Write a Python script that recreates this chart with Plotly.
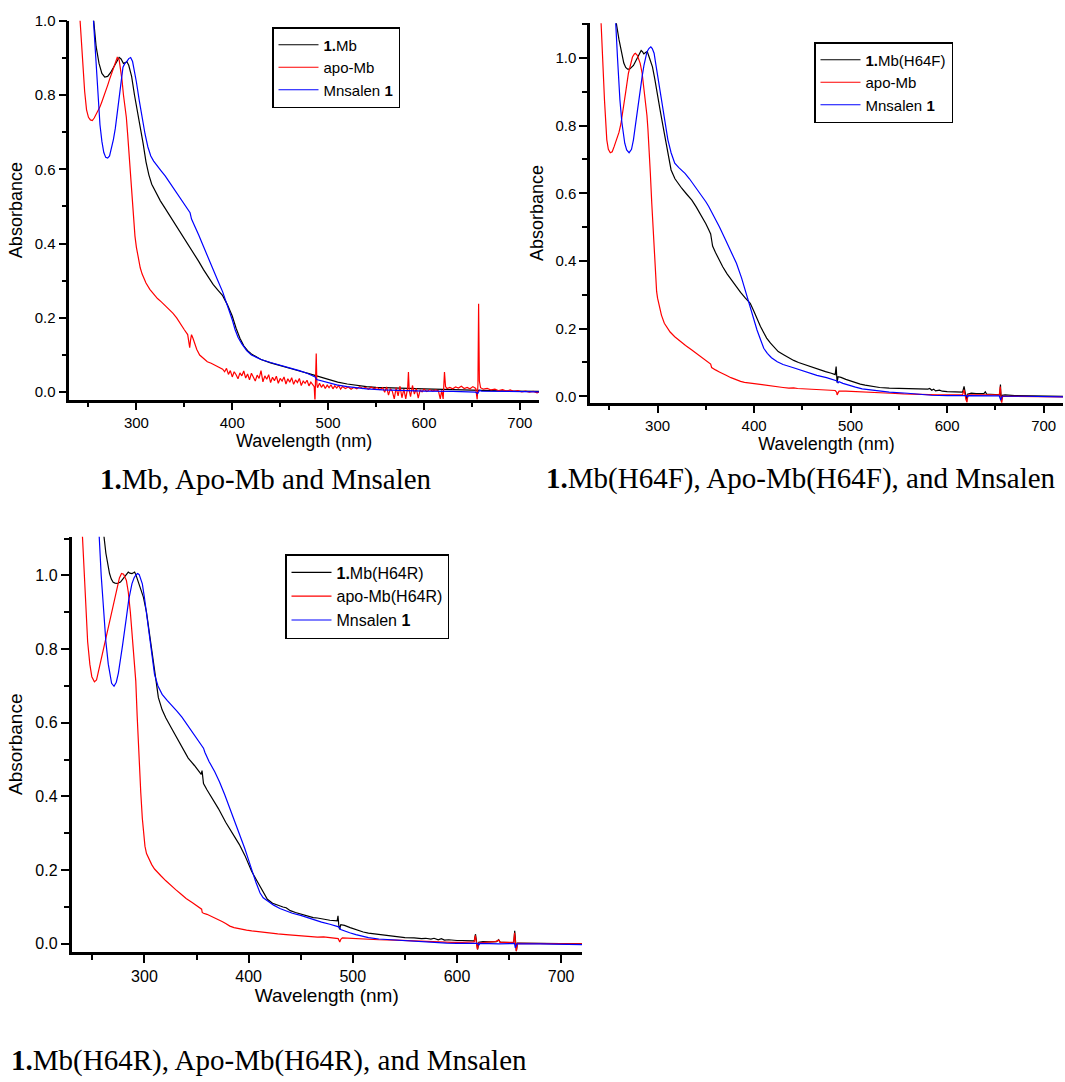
import plotly.graph_objects as go

# ---------------- DATA (wavelength nm, absorbance) ----------------
# Panel 1: 1.Mb, apo-Mb, Mnsalen 1
P1_MB = [(250,1.15),(254,1.03),(256,0.98),(258,0.93),(261,0.885),(264,0.858),(267,0.848),(270,0.850),
 (273,0.860),(276,0.873),(279,0.889),(282,0.901),(284,0.897),(286.5,0.885),(288.5,0.887),(290,0.890),
 (292,0.880),(295,0.85),(298,0.80),(301,0.76),(304,0.72),(307,0.67),(310,0.62),(313,0.585),(316,0.56),
 (320,0.538),(325,0.515),(330,0.495),(335,0.475),(340,0.455),(345,0.435),(350,0.415),(355,0.395),
 (360,0.374),(365,0.352),(370,0.33),(375,0.31),(380,0.29),(385,0.275),(390,0.26),(395,0.235),(400,0.205),
 (404,0.172),(408,0.145),(412,0.125),(416,0.112),(420,0.103),(425,0.095),(430,0.088),(440,0.079),
 (450,0.071),(460,0.064),(470,0.057),(480,0.050),(487,0.045),(490,0.042),(500,0.034),(510,0.027),
 (520,0.022),(530,0.018),(540,0.015),(550,0.013),(570,0.011),(600,0.009),(630,0.007),(655,0.005),
 (660,0.004),(690,0.003),(720,0.002)]

P1_APO = [(240,1.05),(242,0.96),(244,0.89),(246,0.81),(248,0.76),(250,0.74),(252,0.733),(254,0.731),
 (256,0.738),(258,0.748),(260,0.755),(262,0.768),(264,0.782),(266,0.795),(268,0.81),(270,0.826),
 (272,0.842),(274,0.858),(276,0.875),(278,0.89),(280,0.901),(282,0.895),(283.5,0.872),(285,0.84),
 (286.5,0.80),(288,0.77),(289.5,0.74),(291,0.69),(292.5,0.63),(294,0.57),(295.5,0.51),(297,0.46),
 (298.5,0.42),(300,0.39),(302,0.36),(304,0.335),(306,0.318),(308,0.305),(310,0.294),(314,0.277),
 (318,0.264),(322,0.252),(326,0.243),(330,0.233),(334,0.224),(338,0.213),(342,0.2),(346,0.183),
 (350,0.168),(353.5,0.155),(355,0.135),(355.6,0.12),(356.5,0.14),(357.5,0.155),(359,0.145),(361,0.128),
 (363,0.115),(366,0.1),(370,0.09),(374,0.082),(378,0.078),(382,0.072),(386,0.068),(390,0.062),
 (392,0.055),(394,0.064),(396,0.048),(398,0.058),(400,0.041),(402,0.055),(404,0.047),(406,0.036),
 (408,0.052),(410,0.044),(412,0.057),(414,0.038),(416,0.049),(418,0.033),(420,0.051),(422,0.042),
 (424,0.030),(426,0.046),(428,0.037),(430,0.058),(432,0.028),(434,0.044),(436,0.035),(438,0.047),
 (440,0.026),(442,0.040),(444,0.031),(446,0.043),(448,0.024),(450,0.037),(452,0.030),(454,0.041),
 (456,0.022),(458,0.036),(460,0.027),(462,0.039),(464,0.021),(466,0.033),(468,0.026),(470,0.037),
 (472,0.018),(474,0.030),(476,0.024),(478,0.032),(480,0.017),(482,0.027),(484,0.021),(485.5,0.015),
 (486.3,-0.025),(487,0.02),(487.6,0.104),(488.3,0.02),(489,0.012),(491,0.024),(493,0.013),(495,0.021),
 (497,0.010),(499,0.019),(501,0.012),(503,0.020),(505,0.009),(507,0.017),(509,0.011),(511,0.018),
 (513,0.008),(515,0.015),(518,0.010),(521,0.014),(524,0.008),(527,0.013),(530,0.009),(533,0.015),
 (536,0.010),(539,0.013),(542,0.008),(545,0.014),(548,0.009),(551,0.013),(554,0.007),(557,0.012),
 (559,0.000),(561,0.014),(563,-0.008),(565,0.010),(567,0.002),(569,-0.018),(571,0.012),(573,-0.010),
 (575,0.016),(577,-0.015),(579,0.008),(581,-0.018),(583,0.012),(583.8,0.054),(584.6,0.005),(586,-0.012),
 (588,0.018),(590,-0.005),(592,0.010),(594,-0.016),(596,0.006),(598,0.001),(600,0.008),(603,0.002),
 (606,0.007),(609,0.003),(612,0.006),(615,0.004),(617,-0.018),(618.5,0.005),(620,-0.018),(621.4,0.054),
 (622.5,0.015),(624,0.010),(627,0.013),(630,0.009),(633,0.014),(636,0.011),(639,0.016),(642,0.010),
 (645,0.013),(648,0.009),(651,0.015),(654,0.010),(655.5,-0.02),(656.3,0.02),(657,0.238),(657.8,0.03),
 (659,0.012),(662,0.008),(666,0.010),(670,0.006),(674,0.008),(678,0.004),(682,0.007),(686,0.003),
 (690,0.006),(694,0.002),(698,0.004),(702,0.001),(706,0.003),(710,0.0),(714,0.002),(718,-0.002),(720,0.0)]

P1_SALEN = [(254,1.05),(256,0.97),(258,0.86),(260,0.79),(262,0.72),(264,0.675),(266,0.645),(268,0.632),
 (270,0.630),(272,0.636),(274,0.655),(276,0.68),(278,0.71),(280,0.75),(282,0.80),(284,0.845),(286,0.875),
 (288,0.885),(290,0.89),(292,0.898),(294,0.901),(296,0.89),(298,0.865),(300,0.835),(303,0.785),
 (306,0.738),(309,0.695),(312,0.66),(315,0.636),(318,0.622),(322,0.607),(326,0.595),(330,0.582),
 (335,0.563),(340,0.543),(345,0.523),(350,0.505),(354,0.490),(356,0.483),(357.5,0.466),(360,0.45),
 (365,0.423),(370,0.392),(375,0.36),(380,0.33),(385,0.30),(390,0.27),(395,0.235),(400,0.195),
 (403,0.168),(406,0.148),(410,0.13),(415,0.112),(420,0.1),(425,0.093),(430,0.088),(440,0.08),
 (450,0.073),(460,0.065),(470,0.058),(478,0.051),(485,0.044),(486.5,0.041),(488,0.034),(492,0.031),
 (500,0.025),(510,0.019),(520,0.015),(530,0.012),(540,0.009),(557,0.006),(580,0.004),(600,0.003),
 (630,0.002),(650,0.002),(654,0.000),(656,-0.004),(658,0.005),(660,0.003),(680,0.002),(700,0.001),(720,0.001)]

# Panel 2: 1.Mb(H64F), apo-Mb, Mnsalen 1
P2_MB = [(255,1.2),(257.4,1.10),(260,1.055),(262.7,1.014),(265,0.985),(267,0.972),(269,0.967),(271,0.967),
 (273,0.972),(275,0.978),(277,0.989),(279,1.0),(281,1.013),(283,1.022),(284.5,1.018),(285.8,1.012),
 (287.5,1.016),(289.3,1.019),(291,1.005),(293,0.99),(294.7,0.974),(297,0.94),(300,0.886),(303,0.84),
 (307,0.777),(310,0.725),(314,0.669),(318,0.643),(321,0.63),(325,0.615),(330,0.598),(335.5,0.58),
 (340,0.56),(346,0.531),(350,0.51),(353,0.492),(355,0.48),(356,0.462),(357,0.444),(360,0.425),(364,0.40),
 (367.5,0.383),(372,0.362),(377,0.342),(381.7,0.324),(386,0.307),(391,0.29),(396,0.275),(400,0.25),
 (403,0.228),(406.6,0.206),(410,0.188),(413,0.172),(417,0.157),(421,0.143),(425,0.132),(431,0.122),
 (436,0.113),(441,0.106),(446,0.1),(452.8,0.093),(460,0.087),(467,0.08),(474,0.073),(480,0.068),
 (484,0.064),(485,0.088),(485.5,0.06),(486,0.04),(487,0.058),(490,0.056),(495,0.05),(500,0.045),
 (505,0.04),(510,0.036),(515,0.033),(520,0.03),(524,0.029),(530,0.026),(540,0.024),(550,0.023),
 (559,0.022),(570,0.021),(580,0.021),(582,0.023),(584,0.018),(586,0.021),(588,0.016),(592,0.018),
 (595,0.015),(600,0.014),(605,0.013),(610,0.013),(616,0.012),(617.5,0.029),(618.5,0.012),(620,-0.01),
 (621,0.006),(625,0.009),(630,0.008),(638,0.008),(639.5,0.013),(641,0.006),(645,0.006),(650,0.005),
 (654.5,0.004),(655.2,0.035),(656,-0.015),(657,0.003),(660,0.004),(670,0.002),(680,0.002),(700,0.001),(720,0.0)]

P2_APO = [(240,1.2),(241.4,1.10),(243,0.98),(245,0.876),(247.4,0.758),(249,0.73),(251,0.72),(253,0.723),
 (255,0.738),(257.4,0.758),(260,0.78),(262,0.805),(264.5,0.846),(267,0.9),(269.8,0.955),(272,0.985),
 (274,1.003),(276,1.012),(277,1.014),(279,1.008),(281,0.995),(282,0.984),(284,0.955),(286,0.91),
 (287.6,0.876),(289,0.83),(290,0.79),(291,0.748),(292.5,0.66),(294,0.57),(294.7,0.531),(296,0.46),
 (297,0.40),(298,0.344),(299,0.31),(300,0.29),(301.8,0.265),(304,0.24),(307,0.216),(310,0.202),
 (313,0.19),(317.8,0.176),(323,0.163),(329,0.15),(335.5,0.137),(341,0.125),(347,0.112),(353,0.098),
 (355,0.095),(356,0.085),(357,0.083),(360,0.078),(364,0.072),(367.5,0.068),(371,0.062),(376,0.055),
 (381.7,0.048),(386,0.044),(390,0.041),(395,0.039),(399.5,0.038),(405,0.035),(410,0.032),(417,0.029),
 (423,0.027),(430,0.026),(436,0.024),(441,0.025),(445,0.023),(452.8,0.022),(460,0.02),(468,0.02),
 (476,0.018),(484,0.017),(485.5,0.012),(486,0.004),(487,0.01),(488,0.015),(495,0.015),(506,0.014),
 (520,0.011),(530,0.01),(541.6,0.009),(555,0.007),(565,0.006),(577,0.004),(590,0.004),(605,0.004),
 (616,0.005),(617.5,0.019),(618.3,0.005),(619.5,-0.01),(620.5,-0.018),(621.5,0.004),(630,0.004),
 (640,0.004),(645,0.003),(654,0.004),(655,0.029),(655.8,0.01),(656.5,-0.02),(657.5,0.0),(665,0.0),
 (690,-0.001),(720,-0.002)]

P2_SALEN = [(254,1.2),(256.7,1.10),(258.5,1.0),(260,0.92),(261,0.876),(263,0.81),(266,0.748),(268,0.728),
 (270.5,0.72),(273,0.73),(275,0.758),(277,0.80),(279,0.845),(282,0.905),(284,0.945),(286,0.98),
 (287.6,1.004),(289,1.018),(291,1.028),(293,1.033),(294.5,1.028),(296.4,1.014),(298,0.985),(300,0.95),
 (303.5,0.886),(307,0.82),(310.7,0.758),(314,0.72),(317.8,0.689),(322,0.676),(328.4,0.659),(333,0.643),
 (339,0.62),(345,0.595),(350,0.575),(353,0.561),(358,0.535),(364,0.501),(370,0.465),(376,0.43),
 (381.7,0.393),(387,0.35),(392,0.3),(396,0.265),(400,0.228),(403,0.196),(407,0.165),(410,0.142),
 (413.7,0.127),(418,0.114),(424,0.102),(430,0.094),(440,0.085),(452.8,0.073),(465,0.062),(475,0.055),
 (484.7,0.048),(486,0.045),(487,0.04),(488,0.043),(492,0.038),(499,0.031),(505,0.027),(512,0.022),
 (524,0.017),(540,0.012),(559,0.009),(570,0.006),(584,0.003),(600,0.002),(620,0.002),(621,-0.003),
 (622,0.002),(650,0.001),(654,0.001),(655.5,-0.011),(657,0.0),(680,0.0),(720,-0.002)]

# Panel 3: 1.Mb(H64R), apo-Mb(H64R), Mnsalen 1
P3_MB = [(258,1.25),(261,1.11),(263,1.06),(264.6,1.032),(266.5,1.005),(268.2,0.99),(270,0.981),(271.8,0.979),
 (274,0.978),(277,0.982),(279,0.99),(281,0.995),(283,1.005),(284.5,1.009),(286,1.006),(288,1.005),
 (289.5,1.007),(290.6,1.009),(292,1.0),(293.5,0.986),(296,0.966),(299,0.941),(302,0.9),(306,0.822),
 (310,0.74),(313.4,0.668),(317,0.635),(320.6,0.613),(326,0.585),(331.4,0.558),(336,0.535),(342,0.504),
 (348,0.484),(353,0.467),(354.5,0.46),(355.3,0.47),(356,0.445),(356.7,0.435),(360,0.418),(365,0.395),
 (371,0.367),(378,0.33),(385.6,0.294),(391,0.27),(396.4,0.24),(400,0.215),(403,0.196),(407,0.176),
 (411,0.155),(415,0.135),(418,0.121),(423,0.11),(429,0.103),(433,0.1),(436,0.098),(440,0.09),(445,0.085),
 (450.5,0.08),(456,0.076),(462,0.071),(466,0.07),(472,0.066),(478,0.064),(485,0.062),(485.8,0.076),
 (486.5,0.052),(487.3,0.039),(488.5,0.052),(492,0.05),(497.5,0.044),(505,0.036),(510,0.032),(515,0.029),
 (522.7,0.026),(530,0.023),(540,0.02),(550,0.017),(558.8,0.016),(566,0.014),(570,0.015),(575,0.013),
 (578,0.015),(582,0.011),(585,0.014),(588,0.01),(592,0.011),(595,0.01),(600,0.009),(605,0.009),
 (610,0.008),(616.6,0.008),(617.8,0.026),(618.8,0.008),(619.8,-0.015),(621,0.004),(625,0.006),
 (632,0.005),(638,0.006),(640,0.011),(641.5,0.004),(645,0.004),(650,0.003),(654.5,0.003),(655.4,0.035),
 (656.2,0.01),(657,-0.02),(658,0.002),(665,0.002),(680,0.001),(700,0.0),(720,0.0)]

P3_APO = [(238,1.25),(240.4,1.105),(242,1.0),(244,0.895),(245.5,0.82),(247.6,0.759),(249.5,0.725),(252,0.711),
 (254,0.716),(255.5,0.735),(257.4,0.759),(260,0.79),(262,0.815),(264.6,0.85),(267,0.882),(269,0.91),
 (271.8,0.941),(274,0.97),(276,0.993),(278,1.005),(280,1.003),(282.7,0.986),(284.5,0.955),(286.5,0.9),
 (288,0.85),(289.5,0.79),(291,0.74),(291.7,0.713),(293,0.62),(294,0.55),(295.3,0.485),(296.5,0.41),
 (298,0.34),(299,0.303),(300.5,0.265),(302,0.245),(304.3,0.23),(307,0.215),(309.7,0.203),(313,0.192),
 (316,0.184),(320.6,0.171),(325,0.159),(330,0.147),(335,0.135),(340,0.123),(345.8,0.112),(350,0.104),
 (354.9,0.094),(355.5,0.085),(356.7,0.083),(360,0.08),(364,0.075),(367,0.071),(371,0.066),(375,0.06),
 (378,0.055),(382,0.048),(386,0.044),(392.8,0.039),(398,0.037),(403,0.035),(408,0.033),(414.4,0.031),
 (420,0.029),(428,0.027),(436,0.025),(444,0.023),(450.5,0.021),(458,0.02),(466,0.018),(472,0.019),
 (478,0.017),(485,0.016),(486,0.014),(487.5,0.005),(488.5,0.012),(490,0.016),(496,0.015),(504.7,0.014),
 (515,0.012),(525,0.011),(540.8,0.01),(555,0.008),(565,0.007),(577,0.005),(585,0.004),(595,0.004),
 (605,0.004),(612,0.005),(616.5,0.005),(617.6,0.023),(618.6,0.005),(619.6,-0.015),(621,0.003),
 (630,0.005),(637,0.006),(640,0.01),(641.5,0.004),(645,0.004),(650,0.004),(654.5,0.004),(655.3,0.03),
 (656.1,0.008),(657,-0.02),(658,0.001),(665,0.001),(680,0.0),(700,0.0),(720,0.0)]

P3_SALEN = [(254,1.25),(256.3,1.11),(258.5,1.0),(260,0.94),(261,0.895),(263,0.82),(265.3,0.759),(267,0.725),
 (268.5,0.707),(270.8,0.699),(273,0.71),(275,0.735),(276.5,0.759),(279,0.81),(282.7,0.886),(285,0.935),
 (288,0.977),(290,0.993),(292,1.002),(293.5,1.005),(295,1.002),(296.5,0.99),(298,0.977),(300,0.94),
 (302,0.895),(304.3,0.841),(307,0.78),(309.7,0.731),(313,0.7),(317,0.677),(322,0.66),(327,0.645),
 (331.4,0.631),(336,0.615),(341,0.595),(345.8,0.576),(350,0.558),(354,0.54),(356.7,0.531),(358,0.52),
 (362,0.495),(367.5,0.467),(372,0.44),(377,0.405),(382,0.367),(387,0.33),(392,0.295),(396.4,0.258),
 (400,0.227),(403,0.2),(407,0.167),(411,0.138),(414,0.125),(418,0.117),(424,0.105),(430,0.096),
 (436,0.089),(442,0.083),(450,0.077),(461,0.066),(470,0.059),(478,0.053),(485,0.048),(486.5,0.046),
 (488.4,0.039),(491,0.036),(497,0.03),(503,0.025),(508.3,0.021),(515,0.017),(525,0.013),(540.8,0.01),
 (555,0.007),(565,0.005),(577,0.003),(590,0.002),(600,0.001),(620,0.001),(621,-0.004),(622,0.001),
 (640,0.0),(650,0.0),(655.2,0.001),(656,-0.011),(657.5,0.0),(680,0.0),(700,-0.001),(720,-0.002)]

LEGEND_NAMES = {
    1: ["<b>1.</b>Mb", "apo-Mb", "Mnsalen <b>1</b>"],
    2: ["<b>1.</b>Mb(H64F)", "apo-Mb", "Mnsalen <b>1</b>"],
    3: ["<b>1.</b>Mb(H64R)", "apo-Mb(H64R)", "Mnsalen <b>1</b>"],
}
CAPTIONS = [
    "<b>1.</b>Mb, Apo-Mb and Mnsalen",
    "<b>1.</b>Mb(H64F), Apo-Mb(H64F), and Mnsalen",
    "<b>1.</b>Mb(H64R), Apo-Mb(H64R), and Mnsalen",
]
X_TICKS = [300, 400, 500, 600, 700]
Y_TICKS = [0.0, 0.2, 0.4, 0.6, 0.8, 1.0]

# ---------------- FIGURE ----------------
W, H = 1065, 1082
SANS = "Arial, Liberation Sans, sans-serif"
SERIF = "Times New Roman, Liberation Serif, serif"
COLORS = ["#000000", "#ff0000", "#0000ff"]

panels = {
    1: [P1_MB, P1_APO, P1_SALEN],
    2: [P2_MB, P2_APO, P2_SALEN],
    3: [P3_MB, P3_APO, P3_SALEN],
}
# pixel geometry of each plot area: (left, right), (top, bottom), y-range, font sizes, legend corner
geom = {
    1: dict(px=(69.3, 539), py=(20.7, 399.5), yr=(-0.0197, 1.0), tick=15, title=18, leg=15, legpos=(272, 27)),
    2: dict(px=(590, 1063), py=(23.3, 402.7), yr=(-0.019, 1.1026), tick=15, title=18, leg=15, legpos=(814, 42)),
    3: dict(px=(71.5, 582), py=(536.7, 951.8), yr=(-0.0217, 1.105), tick=16, title=19, leg=16, legpos=(285, 554)),
}

fig = go.Figure()
layout = dict(
    width=W, height=H, margin=dict(l=0, r=0, t=0, b=0, autoexpand=False),
    paper_bgcolor="white", plot_bgcolor="white", showlegend=True,
)

for k in (1, 2, 3):
    g = geom[k]
    xa = "x" if k == 1 else f"x{k}"
    ya = "y" if k == 1 else f"y{k}"
    leg = "legend" if k == 1 else f"legend{k}"
    for series, name, col in zip(panels[k], LEGEND_NAMES[k], COLORS):
        wl = [p[0] for p in series]
        ab = [p[1] for p in series]
        fig.add_trace(go.Scatter(x=wl, y=ab, mode="lines", name=name,
                                 line=dict(color=col, width=1.2),
                                 xaxis=xa, yaxis=ya, legend=leg))
    axkey_x = "xaxis" if k == 1 else f"xaxis{k}"
    axkey_y = "yaxis" if k == 1 else f"yaxis{k}"
    common = dict(showline=True, linecolor="black", linewidth=2.5, showgrid=False, zeroline=False,
                  automargin=False,
                  ticks="outside", ticklen=8, tickwidth=2, tickcolor="black",
                  tickfont=dict(family=SANS, size=g["tick"], color="black"))
    layout[axkey_x] = dict(
        domain=[g["px"][0] / W, g["px"][1] / W], anchor=ya, range=[230, 720],
        tickvals=X_TICKS, ticktext=[str(v) for v in X_TICKS],
        minor=dict(dtick=50, tick0=250, ticklen=5, tickwidth=2, ticks="outside", tickcolor="black"),
        title=dict(text="Wavelength (nm)", font=dict(family=SANS, size=g["title"], color="black"), standoff=0),
        **common)
    layout[axkey_y] = dict(
        domain=[1 - g["py"][1] / H, 1 - g["py"][0] / H], anchor=xa, range=list(g["yr"]),
        tickvals=Y_TICKS, ticktext=[f"{v:.1f}" for v in Y_TICKS],
        minor=dict(dtick=0.1, tick0=0, ticklen=5, tickwidth=2, ticks="outside", tickcolor="black"),
        title=dict(text="Absorbance", font=dict(family=SANS, size=g["title"], color="black"), standoff=8),
        **common)
    layout[leg] = dict(x=g["legpos"][0] / W, y=1 - g["legpos"][1] / H, xanchor="left", yanchor="top",
                       bordercolor="black", borderwidth=1.5, bgcolor="white",
                       font=dict(family=SANS, size=g["leg"], color="black"),
                       tracegroupgap=0, itemwidth=40)

fig.update_layout(**layout)

cap_pos = [(98, 478.5), (544, 478.5), (9, 1060)]
for text, (cx, cy) in zip(CAPTIONS, cap_pos):
    fig.add_annotation(text=text, xref="paper", yref="paper", x=cx / W, y=1 - cy / H,
                       xanchor="left", yanchor="middle", showarrow=False,
                       font=dict(family=SERIF, size=29, color="black"))

fig.write_html("out.html", config={"displayModeBar": False},
               post_script="document.body.style.margin='0px';document.body.style.overflow='hidden';")
